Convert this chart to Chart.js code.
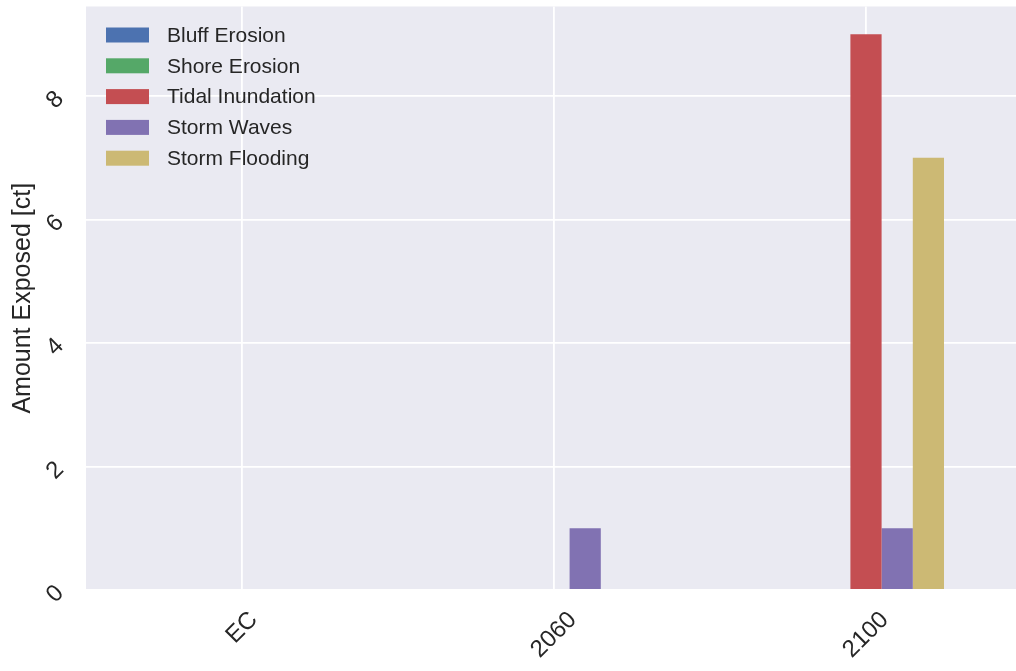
<!DOCTYPE html>
<html>
<head>
<meta charset="utf-8">
<script src="https://cdn.jsdelivr.net/npm/chart.js@4/dist/chart.umd.min.js"></script>
<style>
  html, body { margin: 0; padding: 0; background: #fff; }
  #wrap { width: 1016px; height: 671px; overflow: hidden; position: relative; }
  #chart { display: block; }
</style>
</head>
<body>
<div id="wrap"><canvas id="chart" width="1040" height="671"></canvas></div>
<script>
// data
const categories = ['EC', '2060', '2100'];
const bluffErosion = [0, 0, 0];
const shoreErosion = [0, 0, 0];
const tidalInundation = [0, 0, 9];
const stormWaves = [0, 1, 1];
const stormFlooding = [0, 0, 7];
const yTicks = [0, 2, 4, 6, 8];
const yTitle = 'Amount Exposed [ct]';

const FONT = '"Liberation Sans", Arial, sans-serif';
const TEXT = '#262626';

// seaborn-ish background + hand drawn labels (rotated y ticks, legend inside axes)
const seabornLook = {
    id: 'seabornLook',
    beforeDraw(chart) {
        const { ctx, chartArea: a } = chart;
        ctx.save();
        ctx.fillStyle = '#EAEAF2';
        ctx.fillRect(a.left, a.top, a.right - a.left, a.bottom - a.top);
        ctx.restore();
    },
    afterDraw(chart) {
        const { ctx, chartArea: a } = chart;
        const xs = chart.scales.x, ys = chart.scales.y;
        const r = Math.SQRT1_2;
        ctx.save();
        ctx.fillStyle = TEXT;

        // y tick labels, rotated 45deg
        ctx.font = '24px ' + FONT;
        ctx.textAlign = 'center';
        ctx.textBaseline = 'middle';
        ys.ticks.forEach(t => {
            const w = ctx.measureText(String(t.value)).width;
            const bw = (w + 24 * 0.72) * r;
            const cx = 66 - bw / 2;
            const cy = ys.getPixelForValue(t.value) + 4;
            ctx.save();
            ctx.translate(cx, cy);
            ctx.rotate(-Math.PI / 4);
            ctx.fillText(String(t.value), 0, 0);
            ctx.restore();
        });

        // x tick labels, rotated 45deg, centred under tick
        ctx.font = '24px ' + FONT;
        categories.forEach((c, i) => {
            const w = ctx.measureText(c).width;
            const bh = (w + 24 * 0.72) * r;
            const cx = xs.getPixelForValue(i);
            const cy = a.bottom + 20 + bh / 2;
            ctx.save();
            ctx.translate(cx, cy);
            ctx.rotate(-Math.PI / 4);
            ctx.fillText(c, 0, 0);
            ctx.restore();
        });

        // y axis title
        ctx.font = '25px ' + FONT;
        ctx.save();
        ctx.translate(23, (a.top + a.bottom) / 2);
        ctx.rotate(-Math.PI / 2);
        ctx.fillText(yTitle, 0, 0);
        ctx.restore();

        // legend, upper left, no frame
        ctx.font = '21px ' + FONT;
        ctx.textAlign = 'left';
        chart.data.datasets.forEach((ds, i) => {
            const y = 35 + i * 30.8;
            ctx.fillStyle = ds.backgroundColor;
            ctx.fillRect(106, y - 7.5, 43, 15);
            ctx.fillStyle = TEXT;
            ctx.fillText(ds.label, 167, y + 1);
        });
        ctx.restore();
    }
};

new Chart(document.getElementById('chart'), {
    type: 'bar',
    data: {
        labels: categories,
        datasets: [
            { label: 'Bluff Erosion', data: bluffErosion, backgroundColor: '#4C72B0' },
            { label: 'Shore Erosion', data: shoreErosion, backgroundColor: '#55A868' },
            { label: 'Tidal Inundation', data: tidalInundation, backgroundColor: '#C44E52' },
            { label: 'Storm Waves', data: stormWaves, backgroundColor: '#8172B2' },
            { label: 'Storm Flooding', data: stormFlooding, backgroundColor: '#CCB974' }
        ]
    },
    options: {
        responsive: false,
        animation: false,
        layout: { padding: { left: 86, right: 18, top: 6.5, bottom: 81 } },
        datasets: { bar: { categoryPercentage: 0.5, barPercentage: 1.0, borderWidth: 0 } },
        plugins: { legend: { display: false }, tooltip: { enabled: false } },
        scales: {
            x: {
                offset: true,
                grid: { offset: false, color: '#ffffff', lineWidth: 1.8, drawTicks: false, tickLength: 0 },
                border: { display: false },
                ticks: { display: false, padding: 0 }
            },
            y: {
                min: 0,
                max: 9.45,
                afterBuildTicks: (scale) => { scale.ticks = yTicks.map(v => ({ value: v })); },
                grid: { color: '#ffffff', lineWidth: 1.8, drawTicks: false, tickLength: 0 },
                border: { display: false },
                ticks: { display: false, padding: 0 }
            }
        }
    },
    plugins: [seabornLook]
});
</script>
</body>
</html>
